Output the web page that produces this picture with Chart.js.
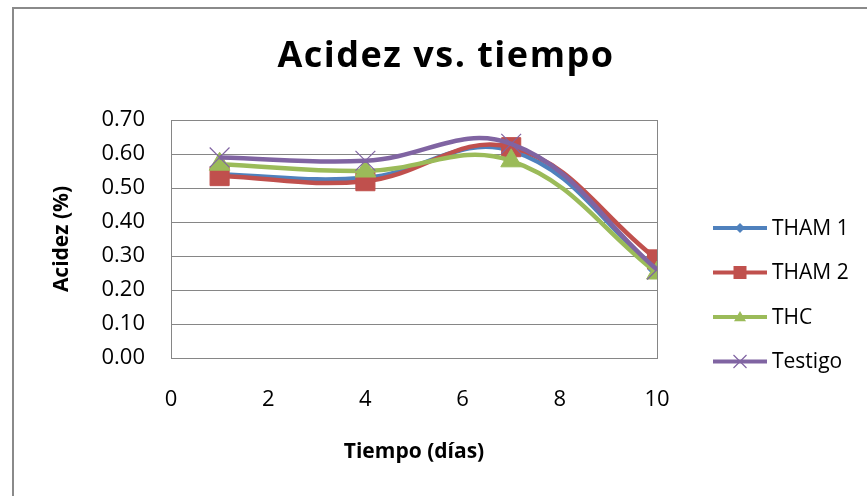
<!DOCTYPE html>
<html>
<head>
<meta charset="utf-8">
<script src="https://cdn.jsdelivr.net/npm/chart.js@4.4.1/dist/chart.umd.min.js"></script>
<style>
  html, body { margin: 0; padding: 0; background: #fff; overflow: hidden; width: 867px; height: 496px; }
  #frame { position: absolute; left: 12px; top: 7px; width: 900px; height: 600px; border: 2px solid #8a8a8a; }
  #wrap { position: absolute; left: 12px; top: 0; width: 867px; height: 496px; }
</style>
</head>
<body>
<div id="frame"></div>
<div id="wrap"><canvas id="myChart" width="867" height="496"></canvas></div>
<script>
// data
const days = [1, 4, 7, 10]
const tham1 = [0.54, 0.53, 0.61, 0.26]
const tham2 = [0.535, 0.52, 0.62, 0.29]
const thc = [0.57, 0.55, 0.58, 0.25]
const testigo = [0.59, 0.58, 0.63, 0.26]
const seriesNames = ['THAM 1', 'THAM 2', 'THC', 'Testigo']
const xTickValues = [0, 2, 4, 6, 8, 10]
const yTickValues = [0, 0.1, 0.2, 0.3, 0.4, 0.5, 0.6, 0.7]
const chartTitle = 'Acidez vs. tiempo'

const colors = ['#4F81BD', '#C0504D', '#9BBB59', '#8064A2']
const styles = ['rectRot', 'rect', 'triangle', 'crossRot']
const radii = [9, 13.5, 12, 14]
const FONT = "'Open Sans', sans-serif"

const toPoints = (vals) => vals.map((v, i) => ({ x: days[i], y: v }))
const allSeries = [tham1, tham2, thc, testigo]

const datasets = allSeries.map((vals, i) => ({
  label: seriesNames[i],
  data: toPoints(vals),
  borderColor: colors[i],
  borderWidth: 4.5,
  tension: 0.4,
  pointStyle: styles[i],
  pointRadius: radii[i],
  pointBackgroundColor: colors[i],
  pointBorderColor: colors[i],
  pointBorderWidth: i === 3 ? 1.2 : 1,
  order: 4 - i,
}))

// legend on the right: line with marker, like the spreadsheet one
function drawMarker(ctx, style, x, y, r, color) {
  ctx.save()
  ctx.fillStyle = color
  ctx.strokeStyle = color
  ctx.beginPath()
  if (style === 'rect') {
    ctx.rect(x - r, y - r, 2 * r, 2 * r)
    ctx.fill()
  } else if (style === 'rectRot') {
    ctx.moveTo(x - r, y); ctx.lineTo(x, y - r); ctx.lineTo(x + r, y); ctx.lineTo(x, y + r)
    ctx.closePath(); ctx.fill()
  } else if (style === 'triangle') {
    ctx.moveTo(x, y - r); ctx.lineTo(x + r, y + r * 0.7); ctx.lineTo(x - r, y + r * 0.7)
    ctx.closePath(); ctx.fill()
  } else {
    ctx.lineWidth = 1.2
    ctx.moveTo(x - r, y - r); ctx.lineTo(x + r, y + r)
    ctx.moveTo(x + r, y - r); ctx.lineTo(x - r, y + r)
    ctx.stroke()
  }
  ctx.restore()
}

const sideLegend = {
  id: 'sideLegend',
  afterDraw(chart) {
    const ctx = chart.ctx
    // title, centred on the whole frame (not on the plot)
    ctx.save()
    ctx.fillStyle = '#000'
    ctx.font = 'bold 36px ' + FONT
    ctx.letterSpacing = '1.5px'
    ctx.textAlign = 'center'
    ctx.textBaseline = 'middle'
    ctx.fillText(chartTitle, 434, 57)
    ctx.restore()

    const sizes = [5, 6.5, 6, 6.5]
    seriesNames.forEach((name, i) => {
      const y = 228 + i * 44.5
      ctx.save()
      ctx.strokeStyle = colors[i]
      ctx.lineWidth = 4
      ctx.beginPath()
      ctx.moveTo(701, y)
      ctx.lineTo(755, y)
      ctx.stroke()
      ctx.restore()
      drawMarker(ctx, styles[i], 728, y, sizes[i], colors[i])
      ctx.save()
      ctx.fillStyle = '#000'
      ctx.font = '21px ' + FONT
      ctx.textBaseline = 'middle'
      ctx.fillText(name, 760, y + 1)
      ctx.restore()
    })
  },
}

const ctx = document.getElementById('myChart').getContext('2d')
new Chart(ctx, {
  type: 'line',
  data: { datasets: datasets },
  plugins: [sideLegend],
  options: {
    responsive: false,
    animation: false,
    events: [],
    layout: { padding: { left: 0, right: 222, top: 120, bottom: 0 } },
    plugins: {
      legend: { display: false },
      tooltip: { enabled: false },
      title: { display: false },
    },
    scales: {
      x: {
        type: 'linear',
        min: 0,
        max: 10,
        afterBuildTicks: (scale) => { scale.ticks = xTickValues.map((v) => ({ value: v })) },
        afterFit: (scale) => { scale.height = 138 },
        grid: {
          drawTicks: false,
          color: (c) => (c.tick && (c.tick.value === 0 || c.tick.value === 10) ? '#868686' : 'rgba(0,0,0,0)'),
          lineWidth: 1,
        },
        border: { color: '#868686', width: 1 },
        ticks: { color: '#000', padding: 29, font: { family: FONT, size: 22 } },
        title: {
          display: true,
          text: 'Tiempo (días)',
          color: '#000',
          font: { family: FONT, size: 21, weight: 'bold' },
          padding: { top: 0, bottom: 31 },
        },
      },
      y: {
        min: 0,
        max: 0.7,
        afterBuildTicks: (scale) => { scale.ticks = yTickValues.map((v) => ({ value: v })) },
        afterFit: (scale) => { scale.width = 159 },
        grid: { drawTicks: false, color: '#868686', lineWidth: 1 },
        border: { color: '#868686', width: 1 },
        ticks: {
          color: '#000',
          padding: 26,
          font: { family: FONT, size: 22 },
          callback: (v) => Number(v).toFixed(2),
        },
        title: {
          display: true,
          text: 'Acidez (%)',
          color: '#000',
          font: { family: FONT, size: 21, weight: 'bold' },
          padding: { top: 37, bottom: 0 },
        },
      },
    },
  },
})
</script>
</body>
</html>
